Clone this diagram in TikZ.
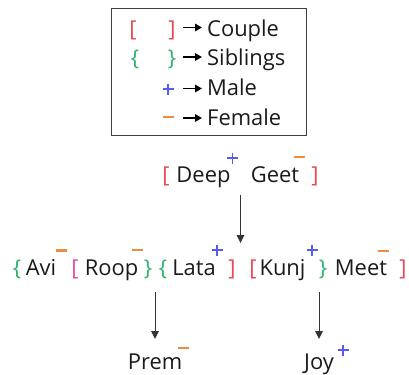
\documentclass[tikz,border=0pt]{standalone}
\usepackage{fontspec}
\setmainfont{Open Sans}
\usetikzlibrary{arrows.meta}
\definecolor{cred}{HTML}{E84A50}
\definecolor{cgreen}{HTML}{2EB36A}
\definecolor{cblue}{HTML}{5A5AF0}
\definecolor{corange}{HTML}{F08A3C}
\definecolor{cpink}{HTML}{E8489A}
\definecolor{ctext}{HTML}{1A1A1A}
\tikzset{
  plusmark/.pic={\draw[cblue,line width=1.4bp] (-5.5,0)--(5.5,0) (0,-5.5)--(0,5.5);},
  minusmark/.pic={\draw[corange,line width=2.6bp] (-5.5,0)--(5.5,0);}
}
\begin{document}
\begin{tikzpicture}[x=1bp,y=-1bp,
  font=\fontsize{22}{26}\selectfont,
  every node/.style={inner sep=0pt,text=ctext},
  person/.style={anchor=base},
  legtext/.style={anchor=base west},
  redbr/.style={anchor=base,text=cred},
  greenbr/.style={anchor=base,text=cgreen},
  pinkbr/.style={anchor=base,text=cpink},
  arr/.style={-{Triangle[length=8bp,width=7.5bp]},line width=0.9bp,draw=black!80},
  legarr/.style={-{Triangle[length=7bp,width=7.5bp]},line width=1.6bp,draw=black}]
\useasboundingbox (0,0) rectangle (409,375);

% legend
\draw[draw=black!75,line width=1bp] (111,8) rectangle (306,135);
\node[redbr] (lb1) at (133,36) {[};
\node[redbr] (lb2) at (172,36) {]};
\node[greenbr] (lb3) at (135,65) {\{};
\node[greenbr] (lb4) at (172,65) {\}};
\pic at (168,89) {plusmark};
\pic at (168,117) {minusmark};
\node[legtext] (tcouple) at (207,36) {Couple};
\node[legtext] (tsib) at (207,65) {Siblings};
\node[legtext] (tmale) at (207,95) {Male};
\node[legtext] (tfemale) at (207,125) {Female};
\coordinate (a1) at (183,27.5); \coordinate (a2) at (183,57);
\coordinate (a3) at (183,88.5); \coordinate (a4) at (183,118);
\draw[legarr] (a1) -- ([xshift=-5bp]a1 -| tcouple.west);
\draw[legarr] (a2) -- ([xshift=-5bp]a2 -| tsib.west);
\draw[legarr] (a3) -- ([xshift=-5bp]a3 -| tmale.west);
\draw[legarr] (a4) -- ([xshift=-5bp]a4 -| tfemale.west);

% row 1
\node[redbr] (b1) at (166,182) {[};
\node[person] (deep) at (203.5,182) {Deep};
\pic at (232.5,158) {plusmark};
\node[person] (geet) at (275,182) {Geet};
\pic at (299,157) {minusmark};
\node[redbr] (b2) at (315,182) {]};

% row 2
\node[greenbr] (s1) at (17,275) {\{};
\node[person] (avi) at (41,275) {Avi};
\pic at (61.5,250.5) {minusmark};
\node[pinkbr] (p1) at (75,275) {[};
\node[person] (roop) at (111.5,275) {Roop};
\pic at (137,250) {minusmark};
\node[greenbr] (s2) at (148,275) {\}};
\node[greenbr] (s3) at (163,275) {\{};
\node[person] (lata) at (194,275) {Lata};
\pic at (217,250) {plusmark};
\node[redbr] (c1) at (232,275) {]};
\node[redbr] (c2) at (253,275) {[};
\node[person] (kunj) at (282.5,275) {Kunj};
\pic at (312,250) {plusmark};
\node[greenbr] (s4) at (323,275) {\}};
\node[person] (meet) at (361,275) {Meet};
\pic at (383,251) {minusmark};
\node[redbr] (c3) at (403,275) {]};

% row 3
\node[person] (prem) at (155,369) {Prem};
\pic at (183,348) {minusmark};
\node[person] (joy) at (319,369) {Joy};
\pic at (343,350) {plusmark};

% connectors
\coordinate (dg) at (240.5,195);
\coordinate (lk) at (240.5,243);
\coordinate (rl) at (155,292);
\coordinate (premtop) at (155,339);
\coordinate (kd) at (319,292);
\coordinate (joytop) at (319,339);
\draw[arr] (dg) -- (lk);
\draw[arr] (rl) -- (premtop);
\draw[arr] (kd) -- (joytop);
\end{tikzpicture}
\end{document}
